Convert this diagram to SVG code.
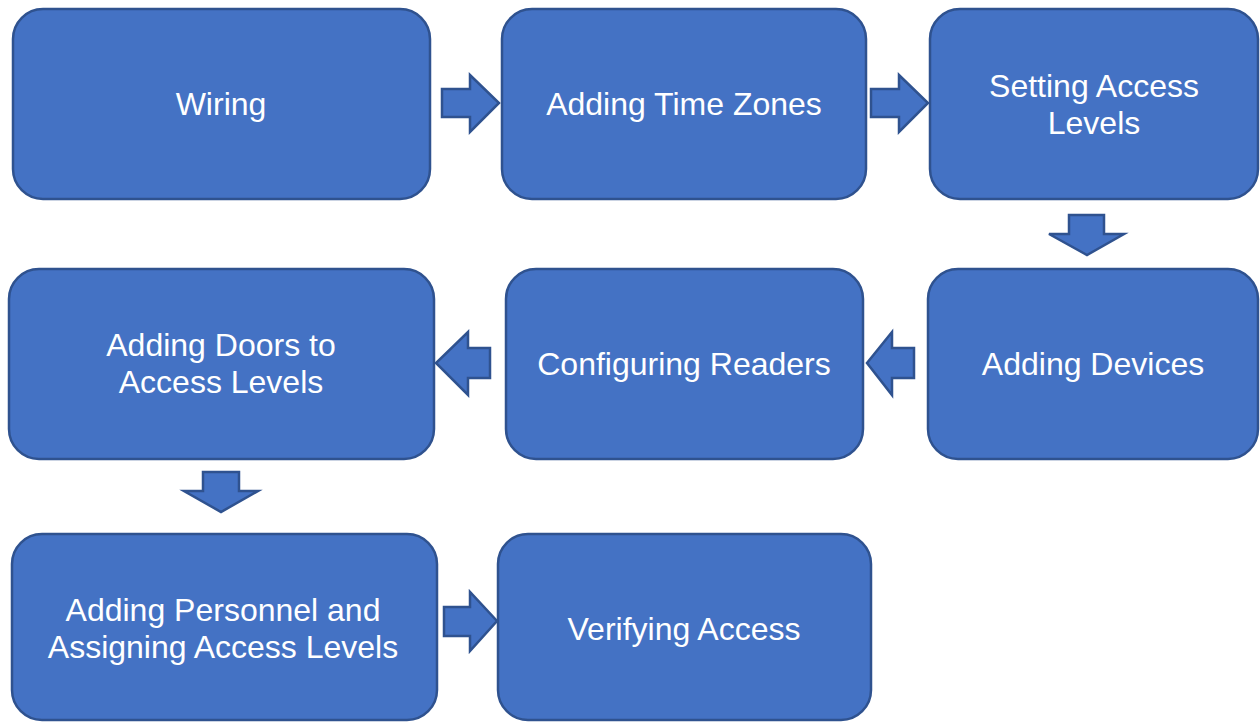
<svg xmlns="http://www.w3.org/2000/svg" width="1260" height="722" viewBox="0 0 1260 722">
<style>
.box{fill:#4472C4;stroke:#2F528F;stroke-width:2.5}
.arr{fill:#4472C4;stroke:#2F528F;stroke-width:2.5;stroke-linejoin:miter}
.t{fill:#fff;font-family:"Liberation Sans",Arial,sans-serif;font-size:32px;text-anchor:middle;dominant-baseline:central}
</style>
<rect width="1260" height="722" fill="#fff"/>
<g id="n1"><rect class="box" x="13" y="9" width="417" height="190" rx="30"/><text class="t" x="221" y="104">Wiring</text></g>
<g id="n2"><rect class="box" x="502" y="9" width="364" height="190" rx="30"/><text class="t" x="684" y="104">Adding Time Zones</text></g>
<g id="n3"><rect class="box" x="930" y="9" width="328" height="190" rx="30"/><text class="t" x="1094" y="86">Setting Access</text><text class="t" x="1094" y="123">Levels</text></g>
<g id="n4"><rect class="box" x="928" y="269" width="330" height="190" rx="30"/><text class="t" x="1093" y="364">Adding Devices</text></g>
<g id="n5"><rect class="box" x="506" y="269" width="357" height="190" rx="30"/><text class="t" x="684" y="364">Configuring Readers</text></g>
<g id="n6"><rect class="box" x="9" y="269" width="425" height="190" rx="30"/><text class="t" x="221" y="345">Adding Doors to</text><text class="t" x="221" y="382">Access Levels</text></g>
<g id="n7"><rect class="box" x="12" y="534" width="425" height="186" rx="30"/><text class="t" x="223" y="610">Adding Personnel and</text><text class="t" x="223" y="647">Assigning Access Levels</text></g>
<g id="n8"><rect class="box" x="498" y="534" width="373" height="186" rx="30"/><text class="t" x="684" y="629">Verifying Access</text></g>
<g id="connectors">
<polygon class="arr" points="442,89 470,89 470,75 499,103 470,132 470,117 442,117"/>
<polygon class="arr" points="871,89 899,89 899,75 928,103 899,132 899,117 871,117"/>
<polygon class="arr" points="1069,215 1104,215 1104,234 1124,234 1087,255 1049,234 1069,234"/>
<polygon class="arr" points="914,348 892,348 892,332 867,363 892,395 892,378 914,378"/>
<polygon class="arr" points="490,348 468,348 468,332 436,363 468,395 468,378 490,378"/>
<polygon class="arr" points="203,472 239,472 239,491 258,491 221,512 184,491 203,491"/>
<polygon class="arr" points="444,607 470,607 470,592 497,621 470,651 470,636 444,636"/>
</g>
</svg>
